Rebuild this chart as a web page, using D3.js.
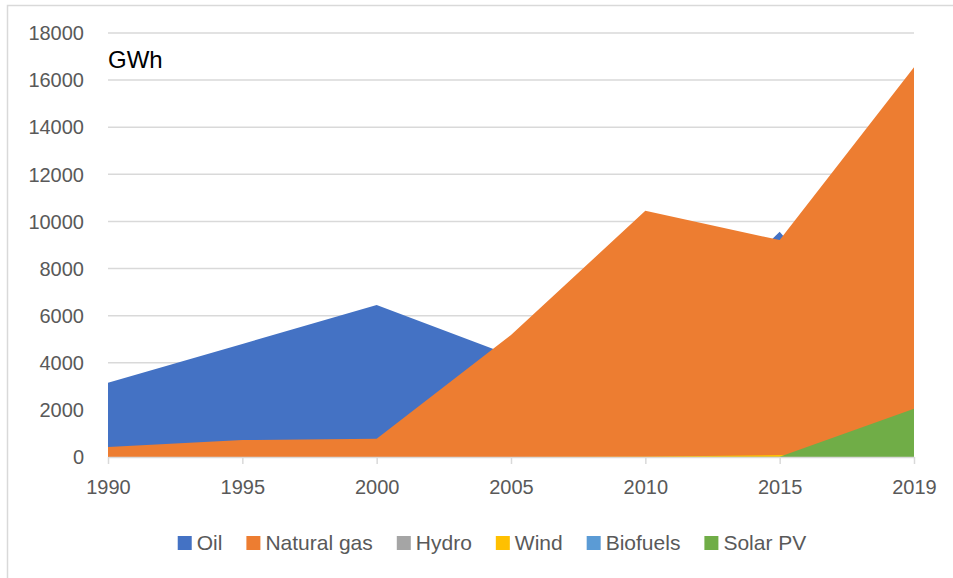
<!DOCTYPE html>
<html>
<head>
<meta charset="utf-8">
<script src="https://cdn.jsdelivr.net/npm/d3@7"></script>
<style>
  body { margin: 0; background: #fff; }
  text { font-family: "Liberation Sans", Arial, sans-serif; }
</style>
</head>
<body>
<svg id="chart" width="953" height="578"></svg>
<script>
// values (GWh)
const years = ['1990', '1995', '2000', '2005', '2010', '2015', '2019'];
const oil = [3150, 4800, 6450, 4300, 4000, 9560, 3000];
const naturalGas = [420, 720, 780, 5180, 10450, 9210, 16550];
const hydro = [0, 0, 0, 0, 0, 0, 0];
const wind = [0, 0, 0, 0, 10, 80, 150];
const biofuels = [0, 0, 0, 0, 0, 0, 0];
const solarPV = [0, 0, 0, 0, 0, 10, 2050];
const yTicks = [0, 2000, 4000, 6000, 8000, 10000, 12000, 14000, 16000, 18000];

const series = [
    {name: 'Oil', values: oil, color: '#4472C4'},
    {name: 'Natural gas', values: naturalGas, color: '#ED7D31'},
    {name: 'Hydro', values: hydro, color: '#A5A5A5'},
    {name: 'Wind', values: wind, color: '#FFC000'},
    {name: 'Biofuels', values: biofuels, color: '#5B9BD5'},
    {name: 'Solar PV', values: solarPV, color: '#70AD47'}
];

const svg = d3.select('#chart');

// chart border
svg.append('rect')
    .attr('x', 7.5).attr('y', 5.5)
    .attr('width', 960).attr('height', 600)
    .style('fill', 'none')
    .style('stroke', '#d9d9d9')
    .style('stroke-width', 1.5);

const x = d3.scalePoint().domain(years).range([108, 914]);
const y = d3.scaleLinear().domain([0, 18000]).range([457, 33]);

// gridlines
svg.append('g')
    .selectAll('line')
    .data(yTicks.filter(d => d > 0))
    .enter()
    .append('line')
        .attr('x1', 108).attr('x2', 914)
        .attr('y1', d => y(d)).attr('y2', d => y(d))
        .style('stroke', '#d9d9d9')
        .style('stroke-width', 1.5);

// overlapping areas, later series drawn on top
const area = d3.area()
    .x((d, i) => x(years[i]))
    .y0(y(0))
    .y1(d => y(d));

svg.append('g')
    .selectAll('path')
    .data(series)
    .enter()
    .append('path')
        .attr('d', d => area(d.values))
        .style('fill', d => d.color);

// x axis
const xAxis = svg.append('g')
    .attr('transform', `translate(0, ${y(0)})`)
    .call(d3.axisBottom(x).tickSize(7).tickPadding(16).tickSizeOuter(0));
xAxis.select('.domain').style('stroke', '#d9d9d9').style('stroke-width', 1.5);
xAxis.selectAll('.tick line').style('stroke', '#d9d9d9').style('stroke-width', 1.5);
xAxis.selectAll('.tick text')
    .style('font-size', '20px')
    .style('fill', '#595959');

// y labels
svg.append('g')
    .selectAll('text')
    .data(yTicks)
    .enter()
    .append('text')
        .attr('x', 84)
        .attr('y', d => y(d))
        .attr('dy', '0.36em')
        .attr('text-anchor', 'end')
        .style('font-size', '20px')
        .style('fill', '#595959')
        .text(d => d);

svg.append('text')
    .attr('x', 108)
    .attr('y', 68)
    .style('font-size', '24px')
    .style('fill', '#000')
    .text('GWh');

// legend
const legend = svg.append('g');
const items = legend.selectAll('g')
    .data(series)
    .enter()
    .append('g');

items.append('rect')
    .attr('width', 14).attr('height', 14)
    .attr('y', 536)
    .style('fill', d => d.color);

items.append('text')
    .attr('y', 550)
    .style('font-size', '21px')
    .style('fill', '#595959')
    .text(d => d.name);

let cursor = 0;
items.each(function () {
    const g = d3.select(this);
    const w = g.select('text').node().getComputedTextLength();
    g.select('rect').attr('x', cursor);
    g.select('text').attr('x', cursor + 19);
    cursor += 19 + w + 24;
});
const total = cursor - 24;
legend.attr('transform', `translate(${492 - total / 2}, 0)`);
</script>
</body>
</html>
